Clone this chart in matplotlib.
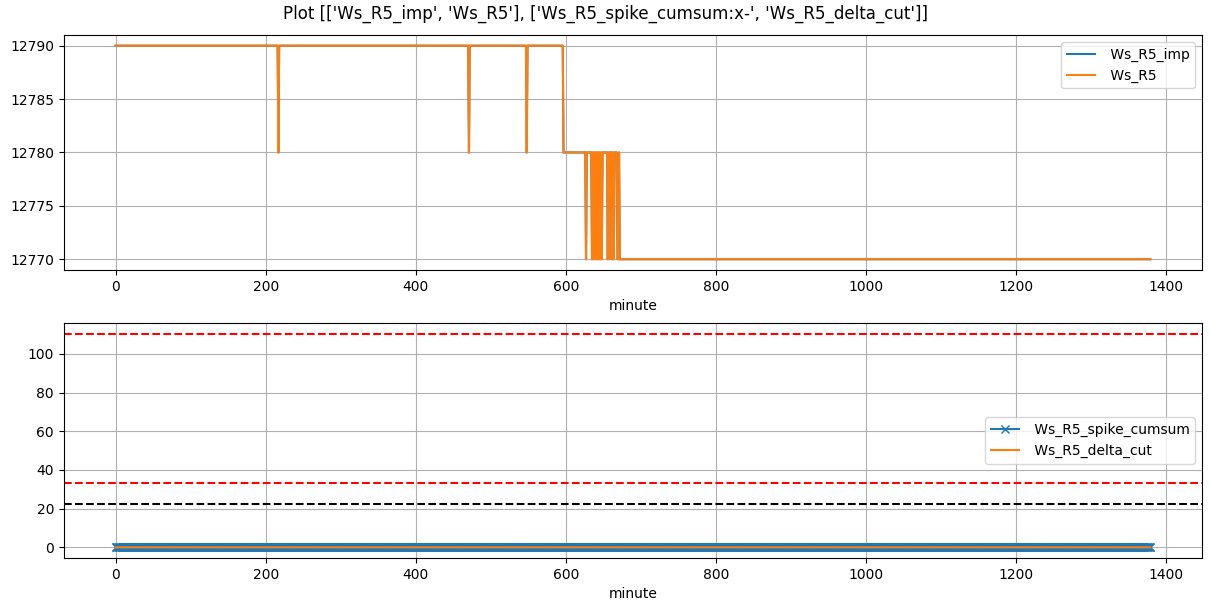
import numpy as np
import pandas as pd
import matplotlib.pyplot as plt

# minutes sampled in the day
n_minutes = 1380

# plateau levels of Ws_R5 and the minute each one starts at
levels = [12790, 12780, 12770]
level_starts = [0, 597, 672]

# single-minute drops to the next lower level
dips_to_12780 = [217, 471, 548]
dips_to_12770 = [627, 635, 637, 640, 642, 644, 646, 648,
                 656, 658, 662, 664, 669, 670]

# threshold lines on the lower panel
upper_cut = 110.4
lower_cut = 33.1
spike_limit = 22.4

series_top = [" Ws_R5_imp", " Ws_R5"]
series_bottom = [" Ws_R5_spike_cumsum", " Ws_R5_delta_cut"]


def build_frame():
    minute = np.arange(n_minutes)
    ws = np.zeros(n_minutes)
    for lvl, start in zip(levels, level_starts):
        ws[start:] = lvl
    ws[dips_to_12780] = 12780
    ws[dips_to_12770] = 12770
    df = pd.DataFrame({
        "Ws_R5_imp": ws,
        "Ws_R5": ws.copy(),
        "Ws_R5_spike_cumsum": np.zeros(n_minutes),
        "Ws_R5_delta_cut": np.zeros(n_minutes),
    }, index=minute)
    df.index.name = "minute"
    return df


df = build_frame()

fig, axes = plt.subplots(2, 1, figsize=(12.11, 6.11), dpi=100)
fig.subplots_adjust(left=0.0527, right=0.9926, top=0.9427, bottom=0.0867, hspace=0.2265)

ax = axes[0]
ax.plot(df.index, df["Ws_R5_imp"], label=series_top[0])
ax.plot(df.index, df["Ws_R5"], label=series_top[1])
ax.set_xlabel("minute")
ax.grid(True)
ax.legend(loc="upper right")

ax = axes[1]
ax.plot(df.index, df["Ws_R5_spike_cumsum"], "x-", label=series_bottom[0])
ax.plot(df.index, df["Ws_R5_delta_cut"], label=series_bottom[1])
ax.axhline(upper_cut, color="red", linestyle="--")
ax.axhline(lower_cut, color="red", linestyle="--")
ax.axhline(spike_limit, color="black", linestyle="--")
ax.set_xlabel("minute")
ax.grid(True)
ax.legend(loc="center right")

fig.suptitle("Plot [['Ws_R5_imp', 'Ws_R5'], ['Ws_R5_spike_cumsum:x-', 'Ws_R5_delta_cut']]",
             y=0.992, va="top")

plt.savefig("out.png")
